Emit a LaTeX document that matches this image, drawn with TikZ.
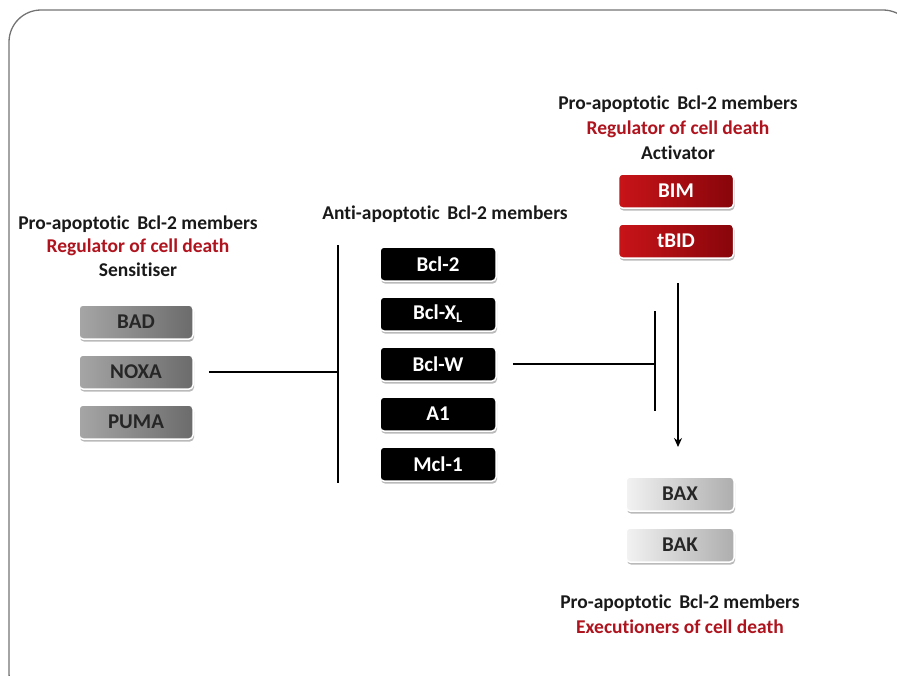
\documentclass[tikz,border=0pt]{standalone}
\usepackage{fontspec}
\setmainfont{Carlito}[Ligatures={NoCommon}]
\usetikzlibrary{shadows,arrows.meta}
\definecolor{darkred}{RGB}{175,20,30}
\definecolor{boxred1}{RGB}{200,20,25}
\definecolor{boxred2}{RGB}{135,5,10}
\tikzset{
  lbl/.style={font=\fontsize{19.5}{23}\selectfont\bfseries, text=black!90, inner sep=0pt},
  rlbl/.style={lbl, text=darkred},
  basebox/.style={rounded corners=4pt, minimum height=34pt, inner sep=0pt,
    font=\fontsize{21}{24}\selectfont\bfseries, draw=white, line width=1.5pt,
    drop shadow={shadow xshift=1pt, shadow yshift=-2.5pt, fill=black!45, opacity=0.6}},
  graybox/.style={basebox, minimum width=114pt, left color=black!35, right color=black!58, text=black!85},
  blackbox/.style={basebox, minimum width=116pt, fill=black, text=white},
  redbox/.style={basebox, minimum width=115pt, left color=boxred1, right color=boxred2, text=white},
  lightbox/.style={basebox, minimum width=108pt, left color=black!5, right color=black!32, text=black!85},
  conn/.style={line width=2pt, black}
}
\begin{document}
\begin{tikzpicture}[x=1pt,y=-1pt]
\useasboundingbox (0,0) rectangle (897,675);
\begin{scope}
\clip (0,0) rectangle (897,675);
\draw[black!55, line width=1.3pt, rounded corners=32pt] (9,10) rectangle (915,705);
\end{scope}

% left group
\node[lbl] (l1) at (138,224) {Pro-apoptotic\, Bcl-2 members};
\node[rlbl] (l2) at (138,247) {Regulator of cell death};
\node[lbl] (l3) at (138,270) {Sensitiser};
\node[graybox] (bad) at (136,322) {BAD};
\node[graybox] (noxa) at (136,372) {NOXA};
\node[graybox] (puma) at (136,422) {PUMA};

% middle group
\node[lbl] (m1) at (445,214) {Anti-apoptotic\, Bcl-2 members};
\node[blackbox] (bcl2) at (438,264) {Bcl-2};
\node[blackbox] (bclxl) at (438,314) {Bcl-X\textsubscript{L}};
\node[blackbox] (bclw) at (438,364) {Bcl-W};
\node[blackbox] (a1) at (438,414) {A1};
\node[blackbox] (mcl1) at (438,464) {Mcl-1};

% top right group
\node[lbl] (t1) at (678,104) {Pro-apoptotic\, Bcl-2 members};
\node[rlbl] (t2) at (678,129) {Regulator of cell death};
\node[lbl] (t3) at (678,153) {Activator};
\node[redbox] (bim) at (676,191) {BIM};
\node[redbox] (tbid) at (676,241) {tBID};

% bottom right group
\node[lightbox] (bax) at (680,494) {BAX};
\node[lightbox] (bak) at (680,545) {BAK};
\node[lbl] (b1) at (680,603) {Pro-apoptotic\, Bcl-2 members};
\node[rlbl] (b2) at (680,627) {Executioners of cell death};

% bars
\coordinate (barLt) at (338,245);
\coordinate (barLb) at (338,483);
\coordinate (barRt) at (655,311);
\coordinate (barRb) at (655,411);
\coordinate (arrS) at (678,283);
\coordinate (arrE) at (678,447);

\draw[conn] (barLt) -- (barLb);
\draw[conn, shorten <=15pt] (noxa.east) -- (barLt |- noxa.east);
\draw[conn] (barRt) -- (barRb);
\draw[conn, shorten <=16pt] (bclw.east) -- (barRt |- bclw.east);
\draw[conn, -{Stealth[length=9pt,width=8pt]}] (arrS) -- (arrE);
\end{tikzpicture}
\end{document}
